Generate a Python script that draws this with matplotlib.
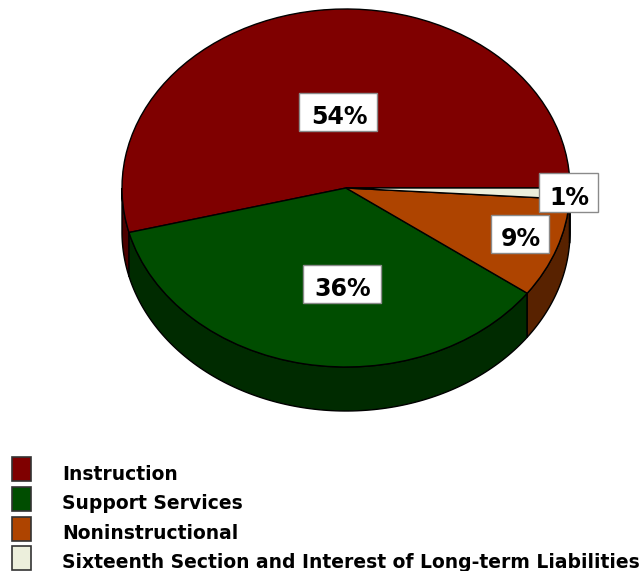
import numpy as np
import matplotlib
matplotlib.use("Agg")
import matplotlib.pyplot as plt
from matplotlib.patches import Polygon, Rectangle

categories = ["Instruction", "Support Services", "Noninstructional",
              "Sixteenth Section and Interest of Long-term Liabilities"]
shares = [54, 36, 9, 1]
top_colors = ["#7F0000", "#004D00", "#AE4400", "#ECEFDC"]
side_colors = ["#4C0000", "#002B00", "#582200", "#582200"]
label_boxes = [(299, 93, 377, 131), (303, 265, 381, 303), (490.5, 215, 549, 253), (539, 173, 598, 212)]
legend_rows = [469, 498.5, 528.5, 557.5]

W, H = 644, 571
CX, CY, RX, RY, DEPTH = 346, 188, 224, 179, 44

fig = plt.figure(figsize=(W / 100, H / 100), dpi=100, facecolor="white")
ax = fig.add_axes([0, 0, 1, 1])


def px(x, y):
    """Pixel position (origin top-left) to pie data coordinates."""
    return (x - CX) / RX, (CY - y) / RY


wedges, _ = ax.pie(shares, colors=top_colors, startangle=0, counterclock=True,
                   radius=1, wedgeprops=dict(edgecolor="black", linewidth=1.0, zorder=3))
ax.set_aspect("auto")
ax.set_xlim(px(0, 0)[0], px(W, 0)[0])
ax.set_ylim(px(0, H)[1], px(0, 0)[1])
ax.set_axis_off()

# Side wall of the disc: the visible lower half of each slice, extruded downward
depth = DEPTH / RY
edges = np.concatenate([[0], np.cumsum(shares)]) * 3.6
for lo, hi, col in zip(edges[:-1], edges[1:], side_colors):
    a, b = max(lo, 180), min(hi, 360)
    if b <= a:
        continue
    t = np.radians(np.linspace(a, b, 120))
    upper = np.column_stack([np.cos(t), np.sin(t)])
    lower = (upper - [0, depth])[::-1]
    ax.add_patch(Polygon(np.vstack([upper, lower]), closed=True, facecolor=col,
                         edgecolor="black", linewidth=1.0, zorder=2))

# Percentage boxes
for share, (l, t, r, b) in zip(shares, label_boxes):
    x0, y0 = px(l, b)
    x1, y1 = px(r, t)
    ax.add_patch(Rectangle((x0, y0), x1 - x0, y1 - y0, facecolor="white",
                           edgecolor="#8A8A8A", linewidth=1.0, zorder=5))
    x, y = px((l + r) / 2 + 1, (t + b) / 2 + 5)
    ax.text(x, y, f"{share}%", ha="center", va="center", fontsize=17,
            fontweight="bold", family="DejaVu Sans", color="black", zorder=6)

# Legend
for name, col, row in zip(categories, top_colors, legend_rows):
    x0, y0 = px(11.5, row + 12)
    x1, y1 = px(31, row - 12)
    ax.add_patch(Rectangle((x0, y0), x1 - x0, y1 - y0, facecolor=col,
                           edgecolor="#333333", linewidth=1.2, zorder=4,
                           clip_on=False))
    tx, ty = px(62, row + 10.5)
    ax.text(tx, ty, name, ha="left", va="baseline", fontsize=13.5, fontweight="bold",
            family="DejaVu Sans", color="black", zorder=5)

fig.savefig("out.png", dpi=100, facecolor="white")
